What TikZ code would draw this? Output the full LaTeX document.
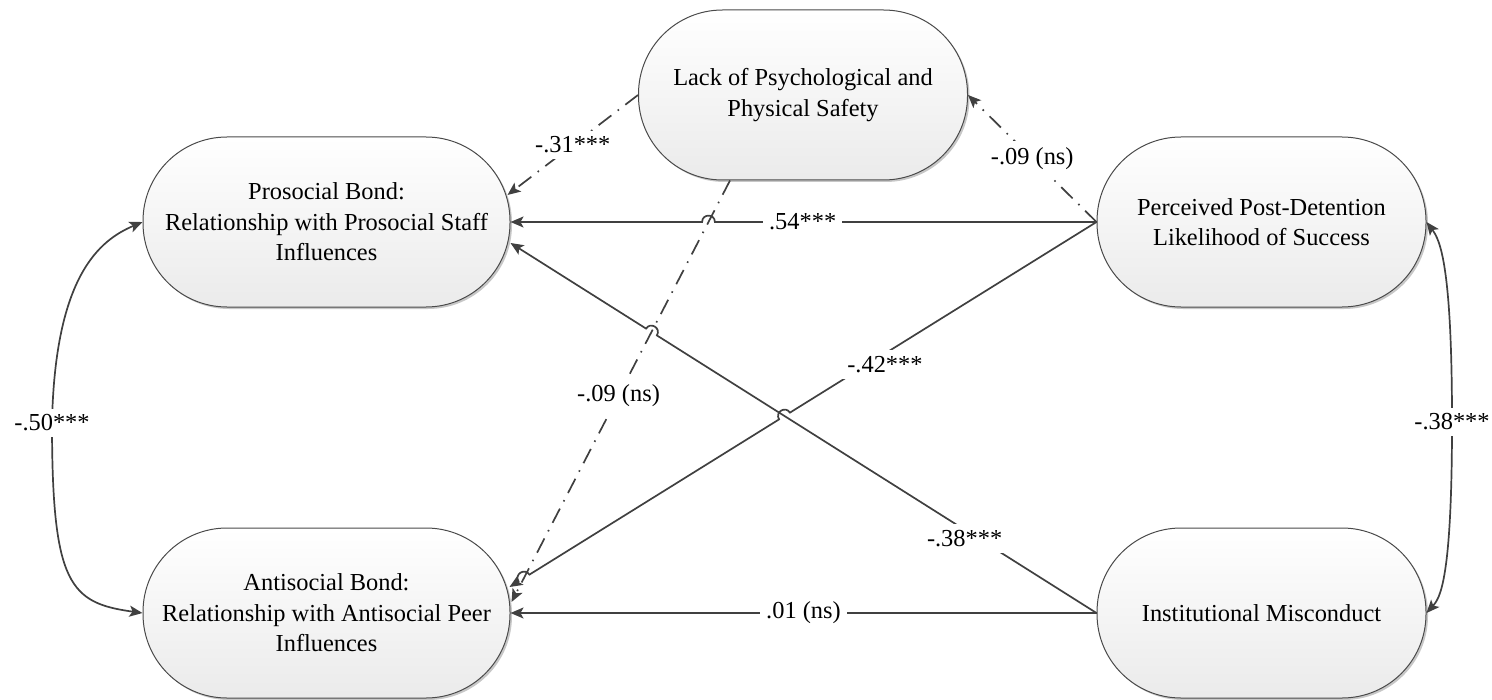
\documentclass[tikz,border=0pt]{standalone}
\usepackage{fontspec}
\setmainfont{Liberation Serif}
\usetikzlibrary{arrows.meta,calc,intersections,shadows}
\definecolor{ink}{HTML}{404040}
\definecolor{rim}{HTML}{4A4A4A}
\begin{document}
\begin{tikzpicture}[x=0.5pt,y=-0.5pt,
  >={Stealth[length=6.5pt,width=5.5pt,inset=1.5pt]},
  construct/.style={draw=rim, line width=0.5pt, rounded corners=42pt,
    top color=white, bottom color=black!8, minimum height=85pt,
    align=center, font=\fontsize{12.2}{15.25}\selectfont,
    drop shadow={shadow xshift=1pt,shadow yshift=-1pt,opacity=0.22,fill=black}},
  widebox/.style={construct, minimum width=183.5pt},
  narrowbox/.style={construct, minimum width=164.5pt},
  link/.style={draw=ink, line width=0.85pt, ->},
  twoway/.style={draw=ink, line width=0.85pt, <->},
  dashdot/.style={dash pattern=on 8pt off 4pt on 0.8pt off 4pt},
  coef/.style={fill=white, inner sep=3pt, text=black,
    font=\fontsize{12.2}{14}\selectfont},
  hop/.style={bend right=90, looseness=1.7},
]
\useasboundingbox (0,0) rectangle (1492,700);

% constructs
\node[narrowbox] (safe) at (803,95) {Lack of Psychological and\\Physical Safety};
\node[widebox] (pro) at (326.5,222) {Prosocial Bond:\\Relationship with Prosocial Staff\\Influences};
\node[narrowbox] (post) at (1261.5,222) {Perceived Post-Detention\\Likelihood of Success};
\node[widebox] (anti) at (326.5,613) {Antisocial Bond:\\Relationship with Antisocial Peer\\Influences};
\node[narrowbox] (misc) at (1261.5,613) {Institutional Misconduct};

% attachment points on the borders
\coordinate (proA) at ($(pro.east)+(-3,-27)$);
\coordinate (proB) at ($(pro.east)+(0,21)$);
\coordinate (antiA) at ($(anti.east)+(-1,-26)$);
\coordinate (antiB) at ($(anti.east)+(1,-11)$);
\coordinate (safeB) at ($(safe.south)+(-73,0)$);

% crossings where a path hops over another
\path[name path=ddline] (safeB) -- (antiB);
\path[name path=l54] (post.west) -- (pro.east);
\path[name path=l38] (misc.west) -- (proB);
\path[name path=l42] (post.west) -- (antiA);
\path[name intersections={of=ddline and l54, by=x1}];
\path[name intersections={of=ddline and l38, by=x2}];
\path[name intersections={of=l42 and l38, by=x3}];
\path[name intersections={of=l42 and ddline, by=x4}];

% dash-dotted paths
\draw[link,dashdot] (safe.west) -- node[coef,pos=0.5]{-.31***} (proA);
\draw[link,dashdot] (post.west) -- node[coef,pos=0.5]{-.09 (ns)} (safe.east);
\draw[link,dashdot] (safeB) -- node[coef,pos=0.51]{-.09 (ns)} (antiB);

% solid paths
\draw[link] (post.west) -- node[coef,pos=0.77]{.54***}
  ($(x1)!3.2pt!(post.west)$) to[hop] ($(x1)!3.2pt!(pro.east)$) -- (pro.east);
\draw[link] (misc.west) -- node[coef,pos=0.3,yshift=-4.5pt]{-.38***}
  ($(x2)!3.2pt!(misc.west)$) to[hop] ($(x2)!3.2pt!(proB)$) -- (proB);
\draw[link] (post.west) -- node[coef,pos=0.69,yshift=-5.5pt]{-.42***}
  ($(x3)!3.2pt!(post.west)$) to[hop] ($(x3)!3.2pt!(antiA)$) --
  ($(x4)!3.2pt!(post.west)$) to[hop] ($(x4)!3.2pt!(antiA)$) -- (antiA);
\draw[link] (misc.west) -- node[coef,pos=0.5]{.01 (ns)} (anti.east);

% correlations
\draw[twoway] (pro.west) .. controls (100,240) and (55,275) .. (52,423)
  node[coef]{-.50***} .. controls (52,585) and (70,603) .. (anti.west);
\draw[twoway] (post.east) .. controls (1440,240) and (1452,265) .. (1452,422)
  node[coef]{-.38***} .. controls (1452,580) and (1440,598) .. (misc.east);
\end{tikzpicture}
\end{document}
